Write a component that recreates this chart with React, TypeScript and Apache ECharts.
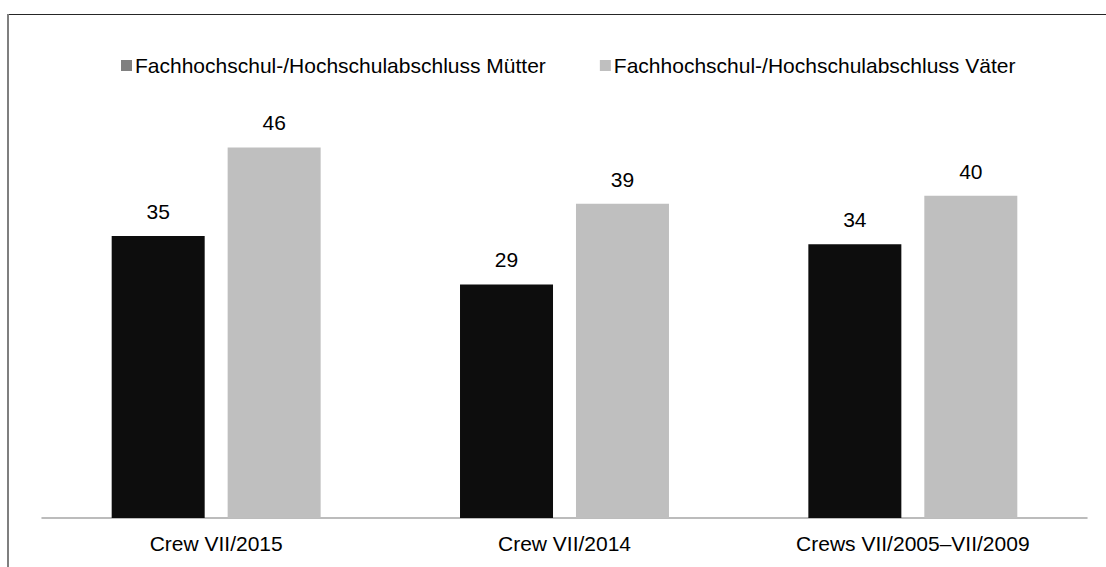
import React, { useEffect, useRef } from "react";
import * as echarts from "echarts";

const categories = ["Crew VII/2015", "Crew VII/2014", "Crews VII/2005–VII/2009"];
const seriesNames = [
  "Fachhochschul-/Hochschulabschluss Mütter",
  "Fachhochschul-/Hochschulabschluss Väter",
];
const muetter = [35, 29, 34];
const vaeter = [46, 39, 40];

const FONT = "'Liberation Sans', Arial, sans-serif";

export default function App() {
  const ref = useRef<HTMLDivElement>(null);
  useEffect(() => {
    if (!ref.current) return;
    const chart = echarts.init(ref.current, undefined, { renderer: "svg" });
    chart.setOption({
      animation: false,
      backgroundColor: "#ffffff",
      textStyle: { fontFamily: FONT },
      graphic: [
        {
          type: "line",
          shape: { x1: 8, y1: 14.5, x2: 1106, y2: 14.5 },
          style: { stroke: "#262626", lineWidth: 1 },
        },
        {
          type: "line",
          shape: { x1: 8, y1: 14, x2: 8, y2: 567 },
          style: { stroke: "#7f7f7f", lineWidth: 2 },
        },
      ],
      legend: {
        left: 116,
        top: 50,
        itemWidth: 11,
        itemHeight: 11,
        itemGap: 54,
        icon: "rect",
        textStyle: {
          fontFamily: FONT,
          fontSize: 21,
          color: "#000",
          padding: [0, 0, 0, -2],
        },
        data: [
          { name: seriesNames[0], itemStyle: { color: "#808080" } },
          { name: seriesNames[1], itemStyle: { color: "#bfbfbf" } },
        ],
      },
      grid: { left: 42, right: 19, top: 115.25, bottom: 49, containLabel: false },
      xAxis: {
        type: "category",
        data: categories,
        axisLine: { show: true, lineStyle: { color: "#a6a6a6", width: 1.5 } },
        axisTick: { show: false },
        axisLabel: {
          fontFamily: FONT,
          fontSize: 21,
          color: "#000",
          margin: 15,
        },
      },
      yAxis: {
        type: "value",
        min: 0,
        max: 50,
        show: false,
        splitLine: { show: false },
      },
      series: [
        {
          name: seriesNames[0],
          type: "bar",
          data: muetter,
          barWidth: 93,
          barGap: "24.7%",
          itemStyle: { color: "#0d0d0d" },
          label: {
            show: true,
            position: "top",
            distance: 14,
            fontFamily: FONT,
            fontSize: 21,
            color: "#000",
          },
        },
        {
          name: seriesNames[1],
          type: "bar",
          data: vaeter,
          barWidth: 93,
          itemStyle: { color: "#bfbfbf" },
          label: {
            show: true,
            position: "top",
            distance: 14,
            fontFamily: FONT,
            fontSize: 21,
            color: "#000",
          },
        },
      ],
    });
    return () => chart.dispose();
  }, []);
  return (
    <div
      ref={ref}
      style={{ position: "fixed", left: 0, top: 0, width: 1106, height: 567 }}
    />
  );
}
